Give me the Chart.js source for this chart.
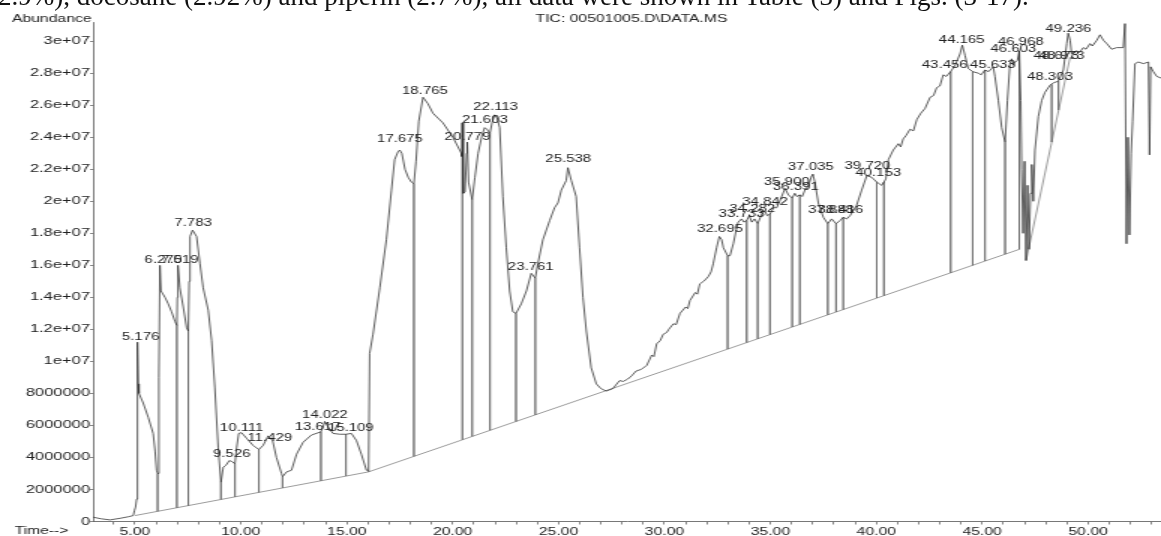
<!DOCTYPE html>
<html>
<head>
<meta charset="utf-8">
<script src="https://cdn.jsdelivr.net/npm/chart.js@4/dist/chart.umd.min.js"></script>
<style>
  html, body { margin: 0; padding: 0; background: #fff; overflow: hidden; }
  #page { position: relative; width: 1161px; height: 536px; overflow: hidden; }
  #chart { position: absolute; left: 0; top: 0; }
  #paper {
    position: absolute; left: -11px; top: -18px; white-space: nowrap;
    font: 27px/28px "Liberation Serif", "Times New Roman", serif; color: #111;
  }
</style>
</head>
<body>
<div id="page">
  <canvas id="chart" width="774" height="536" style="width:1161px;height:536px"></canvas>
  <div id="paper">(2.9%), docosane (2.92%) and piperin (2.7%), all data were shown in Table (3) and Figs. (3-17).</div>
</div>
<script>
// TIC trace, retention time (min) and abundance
const ticTime = [3.02, 3.4, 3.82, 4.3, 4.7, 4.92, 4.98, 5.03, 5.08, 5.11, 5.13, 5.16, 5.19, 5.39, 5.63, 5.86, 5.95, 6.02, 6.07, 6.13,
  6.18, 6.23, 6.42, 6.57, 6.73, 6.89, 6.98, 7.0, 7.03, 7.12, 7.28, 7.44, 7.52, 7.56, 7.6, 7.72, 7.91, 8.07, 8.22, 8.46,
  8.62, 8.77, 8.93, 9.06, 9.17, 9.29, 9.45, 9.58, 9.72, 9.8, 9.9, 10.03, 10.27, 10.58, 10.85, 11.05, 11.29, 11.5, 11.68, 11.92,
  11.97, 12.16, 12.39, 12.63, 12.94, 13.33, 13.78, 13.88, 13.96, 14.12, 14.35, 14.67, 14.96, 15.22, 15.46, 15.69, 15.93, 16.03, 16.08, 16.24,
  16.56, 16.87, 17.11, 17.26, 17.42, 17.5, 17.6, 17.75, 17.9, 18.05, 18.17, 18.27, 18.4, 18.6, 18.83, 19.07, 19.54, 20.01, 20.41, 20.44,
  20.46, 20.5, 20.58, 20.66, 20.69, 20.75, 20.92, 21.05, 21.2, 21.4, 21.51, 21.62, 21.76, 21.86, 21.98, 22.1, 22.22, 22.37, 22.53, 22.69,
  22.84, 22.99, 23.24, 23.48, 23.71, 23.9, 24.02, 24.26, 24.58, 24.81, 24.97, 25.13, 25.36, 25.44, 25.6, 25.83, 25.99, 26.15, 26.31, 26.54,
  26.78, 27.0, 27.25, 27.56, 27.88, 28.05, 28.27, 28.45, 28.66, 28.9, 29.16, 29.4, 29.5, 29.63, 29.8, 29.94, 30.1, 30.2, 30.42, 30.55,
  30.73, 31.0, 31.1, 31.2, 31.45, 31.55, 31.67, 31.85, 32.07, 32.2, 32.3, 32.46, 32.59, 32.7, 32.78, 32.98, 33.09, 33.25, 33.4, 33.48,
  33.64, 33.75, 33.88, 34.0, 34.12, 34.25, 34.4, 34.59, 34.74, 34.85, 34.98, 35.15, 35.3, 35.5, 35.69, 35.85, 36.03, 36.15, 36.25, 36.39,
  36.5, 36.63, 36.8, 36.95, 37.0, 37.1, 37.26, 37.5, 37.71, 37.89, 38.1, 38.29, 38.44, 38.6, 38.76, 39.07, 39.31, 39.55, 39.78, 40.02,
  40.25, 40.36, 40.45, 40.57, 40.8, 41.04, 41.15, 41.27, 41.4, 41.59, 41.75, 41.91, 42.1, 42.3, 42.54, 42.7, 42.85, 43.0, 43.16, 43.3,
  43.51, 43.72, 43.95, 44.06, 44.19, 44.34, 44.55, 44.82, 44.95, 45.13, 45.3, 45.45, 45.52, 45.6, 45.76, 45.92, 46.08, 46.19, 46.31, 46.39,
  46.48, 46.55, 46.66, 46.75, 46.82, 46.86, 46.93, 47.0, 47.07, 47.14, 47.21, 47.28, 47.34, 47.41, 47.49, 47.65, 47.81, 47.96, 48.2, 48.36,
  48.59, 48.83, 48.99, 49.06, 49.15, 49.22, 49.46, 49.6, 49.77, 49.9, 50.09, 50.2, 50.41, 50.56, 50.72, 50.88, 51.11, 51.35, 51.66, 51.74,
  51.81, 51.88, 51.95, 52.03, 52.1, 52.21, 52.37, 52.61, 52.85, 52.9, 52.95, 53.08, 53.24, 53.44];
const ticAbund = [0.27e6, 0.17e6, 0.1e6, 0.2e6, 0.3e6, 0.37e6, 0.7e6, 0.9e6, 1.4e6, 6.0e6, 11.2e6, 8.6e6, 8.0e6, 7.4e6, 6.5e6, 5.5e6, 4.4e6, 3.2e6, 3.0e6, 9.0e6,
  16.0e6, 14.4e6, 14.0e6, 13.6e6, 13.1e6, 12.5e6, 12.25e6, 14.0e6, 16.0e6, 14.6e6, 13.4e6, 12.1e6, 11.9e6, 15.0e6, 17.8e6, 18.2e6, 17.8e6, 16.1e6, 14.6e6, 13.2e6,
  11.3e6, 8.4e6, 4.6e6, 2.45e6, 3.4e6, 3.5e6, 3.8e6, 3.75e6, 3.6e6, 4.6e6, 5.5e6, 5.55e6, 5.2e6, 4.75e6, 4.5e6, 4.75e6, 5.35e6, 5.05e6, 4.0e6, 3.0e6,
  2.8e6, 3.1e6, 3.2e6, 4.2e6, 4.95e6, 5.4e6, 5.6e6, 5.9e6, 6.25e6, 5.9e6, 5.5e6, 5.45e6, 5.45e6, 5.5e6, 5.05e6, 4.2e6, 3.2e6, 3.2e6, 10.5e6, 11.7e6,
  14.6e6, 17.6e6, 20.7e6, 22.6e6, 23.1e6, 23.2e6, 23.0e6, 22.0e6, 21.5e6, 21.2e6, 21.1e6, 22.5e6, 25.0e6, 26.5e6, 26.1e6, 25.5e6, 24.9e6, 24.0e6, 23.0e6, 22.8e6,
  24.9e6, 20.5e6, 20.6e6, 23.0e6, 23.7e6, 21.2e6, 20.1e6, 21.5e6, 23.0e6, 24.2e6, 24.6e6, 24.5e6, 24.25e6, 24.9e6, 25.4e6, 25.2e6, 24.6e6, 20.3e6, 17.1e6, 14.4e6,
  13.1e6, 13.0e6, 13.6e6, 14.4e6, 15.5e6, 15.2e6, 16.1e6, 17.6e6, 18.8e6, 19.6e6, 19.9e6, 20.7e6, 21.3e6, 22.1e6, 21.3e6, 20.3e6, 17.1e6, 14.0e6, 11.9e6, 9.6e6,
  8.6e6, 8.3e6, 8.15e6, 8.3e6, 8.8e6, 8.75e6, 8.9e6, 9.1e6, 9.4e6, 9.5e6, 9.75e6, 10.4e6, 10.3e6, 11.1e6, 11.3e6, 11.7e6, 11.8e6, 12.0e6, 12.35e6, 12.3e6,
  13.0e6, 13.4e6, 13.3e6, 13.8e6, 14.3e6, 14.2e6, 14.85e6, 15.0e6, 15.3e6, 15.6e6, 16.1e6, 17.1e6, 17.8e6, 17.6e6, 17.1e6, 16.6e6, 16.6e6, 17.35e6, 18.3e6, 18.7e6,
  18.9e6, 18.7e6, 18.8e6, 19.1e6, 18.7e6, 18.9e6, 18.6e6, 19.2e6, 19.4e6, 19.1e6, 19.2e6, 19.6e6, 19.6e6, 20.2e6, 20.8e6, 20.4e6, 20.2e6, 20.5e6, 20.3e6, 20.4e6,
  20.3e6, 20.7e6, 21.0e6, 21.6e6, 21.7e6, 21.2e6, 19.9e6, 19.0e6, 18.6e6, 18.9e6, 18.6e6, 18.8e6, 19.0e6, 18.9e6, 19.1e6, 19.75e6, 20.7e6, 21.6e6, 21.5e6, 21.2e6,
  21.0e6, 21.2e6, 21.4e6, 22.6e6, 23.2e6, 23.6e6, 23.4e6, 23.9e6, 24.1e6, 24.5e6, 24.4e6, 25.1e6, 25.5e6, 25.8e6, 26.5e6, 26.6e6, 27.1e6, 27.2e6, 27.9e6, 27.8e6,
  28.1e6, 28.5e6, 29.2e6, 29.75e6, 29.1e6, 28.3e6, 28.1e6, 28.0e6, 27.9e6, 28.2e6, 28.1e6, 28.3e6, 28.4e6, 27.8e6, 26.3e6, 24.6e6, 23.7e6, 26.3e6, 28.6e6, 28.9e6,
  28.5e6, 28.7e6, 28.8e6, 29.4e6, 26.3e6, 22.0e6, 18.0e6, 22.5e6, 16.3e6, 21.0e6, 17.0e6, 20.5e6, 22.3e6, 20.0e6, 23.2e6, 25.3e6, 26.3e6, 26.8e6, 27.25e6, 27.4e6,
  27.5e6, 28.2e6, 29.85e6, 30.5e6, 30.06e6, 29.2e6, 29.4e6, 29.3e6, 29.6e6, 29.5e6, 29.85e6, 29.7e6, 30.06e6, 30.4e6, 30.06e6, 29.85e6, 29.5e6, 29.6e6, 29.6e6, 31.1e6,
  17.35e6, 24.0e6, 17.9e6, 23.0e6, 25.0e6, 28.6e6, 28.7e6, 28.6e6, 28.7e6, 22.9e6, 28.4e6, 28.1e6, 27.8e6, 27.7e6];

// integration baselines
const baseTime = [5.0, 16.03, 46.75];
const baseAbund = [0.37e6, 3.1e6, 17.0e6];
const tailBaseTime = [47.07, 49.15];
const tailBaseAbund = [16.3e6, 29.0e6];

// peak start/stop drop lines: time, top on the trace, bottom on the baseline
const dropTime = [6.07, 6.98, 7.52, 9.06, 9.72, 10.85, 11.97, 13.78, 14.96, 16.03, 18.17, 20.46, 20.92, 21.76, 22.99, 23.9,
  32.98, 33.88, 34.4, 34.98, 36.03, 36.39, 37.71, 38.1, 38.44, 40.02, 40.36, 43.51, 44.55, 45.13, 46.08, 46.75, 48.28, 48.6];
const dropTop = [3.0e6, 12.25e6, 11.9e6, 2.45e6, 3.6e6, 4.5e6, 2.8e6, 5.6e6, 5.45e6, 3.2e6, 21.1e6, 24.9e6, 20.1e6, 24.25e6, 13.0e6, 15.2e6,
  16.6e6, 18.8e6, 18.6e6, 19.2e6, 20.2e6, 20.4e6, 18.6e6, 18.6e6, 19.0e6, 21.2e6, 21.2e6, 28.1e6, 28.1e6, 28.2e6, 23.7e6, 29.4e6, 27.3e6, 27.5e6];
const dropBottom = [0.64e6, 0.86e6, 0.99e6, 1.38e6, 1.54e6, 1.82e6, 2.1e6, 2.54e6, 2.84e6, 3.1e6, 4.07e6, 5.11e6, 5.32e6, 5.7e6, 6.25e6, 6.66e6,
  10.77e6, 11.18e6, 11.41e6, 11.68e6, 12.15e6, 12.31e6, 12.91e6, 13.09e6, 13.24e6, 13.96e6, 14.11e6, 15.53e6, 16.0e6, 16.27e6, 16.7e6, 17.0e6, 23.7e6, 25.7e6];

// retention time labels, placed at (time, abundance) of the text baseline centre
const peakLabel = ["5.176", "6.275", "7.019", "7.783", "9.526", "10.111", "11.429", "13.617", "14.022", "15.109",
  "17.675", "18.765", "20.779", "21.603", "22.113", "23.761", "25.538", "32.695", "33.733", "34.282", "34.842",
  "35.900", "36.391", "37.035", "37.888", "38.416", "39.720", "40.153", "43.456", "44.165", "45.633", "46.603",
  "46.968", "48.303", "48.673", "48.973", "49.236"];
const peakLabelTime = [5.27, 6.34, 7.12, 7.75, 9.57, 10.04, 11.37, 13.62, 13.97, 15.19,
  17.51, 18.69, 20.7, 21.52, 22.03, 23.69, 25.46, 32.62, 33.64, 34.15, 34.75,
  35.77, 36.2, 36.91, 37.86, 38.31, 39.58, 40.09, 43.23, 44.03, 45.5, 46.47,
  46.82, 48.2, 48.5, 48.75, 49.07];
const peakLabelAbund = [11.34e6, 16.17e6, 16.17e6, 18.47e6, 4.01e6, 5.66e6, 5.03e6, 5.72e6, 6.49e6, 5.68e6,
  23.68e6, 26.72e6, 23.84e6, 24.89e6, 25.68e6, 15.72e6, 22.43e6, 18.11e6, 19.05e6, 19.36e6, 19.78e6,
  21.03e6, 20.68e6, 21.97e6, 19.26e6, 19.26e6, 22.03e6, 21.55e6, 28.3e6, 29.9e6, 28.3e6, 29.32e6,
  29.78e6, 27.55e6, 28.9e6, 28.9e6, 30.56e6];

const yTicks = [0, 2e6, 4e6, 6e6, 8e6, 10e6, 12e6, 14e6, 16e6, 18e6, 20e6, 22e6, 24e6, 26e6, 28e6, 30e6];
const xMinorTicks = [4, 5, 6, 7, 8, 9, 10, 11, 12, 13, 14, 15, 16, 17, 18, 19, 20, 21, 22, 23, 24, 25, 26, 27, 28,
  29, 30, 31, 32, 33, 34, 35, 36, 37, 38, 39, 40, 41, 42, 43, 44, 45, 46, 47, 48, 49, 50, 51, 52, 53];
const xLabelTicks = [5, 10, 15, 20, 25, 30, 35, 40, 45, 50];

const FONT = '"Liberation Sans", Arial, sans-serif';
const INK = '#222';

const pairs = (xs, ys) => xs.map((t, i) => ({ x: t, y: ys[i] }));

let dropPoints = [];
for (let i = 0; i < dropTime.length; i++) {
  dropPoints.push({ x: dropTime[i], y: dropTop[i] });
  dropPoints.push({ x: dropTime[i], y: dropBottom[i] });
  dropPoints.push({ x: dropTime[i], y: null });
}

let fmtAbund = (v) => {
  if (v === 0) return '0';
  if (v < 1e7) return String(v);
  return parseFloat((v / 1e7).toFixed(1)) + 'e+07';
};

const annotate = {
  id: 'annotate',
  afterDatasetsDraw(chart) {
    const { ctx } = chart;
    const x = chart.scales.x, y = chart.scales.y;
    ctx.save();
    ctx.fillStyle = INK;
    ctx.textAlign = 'center';
    ctx.textBaseline = 'alphabetic';
    ctx.font = '10px ' + FONT;
    for (let i = 0; i < peakLabel.length; i++) {
      ctx.fillText(peakLabel[i], x.getPixelForValue(peakLabelTime[i]), y.getPixelForValue(peakLabelAbund[i]));
    }
    ctx.font = '10.5px ' + FONT;
    ctx.textBaseline = 'middle';
    ctx.fillText('Abundance', 34.5, 19);
    ctx.fillText('TIC: 00501005.D\\DATA.MS', 421, 19.5);
    ctx.fillText('Time-->', 27.7, 531);
    ctx.restore();
  }
};

new Chart(document.getElementById('chart'), {
  type: 'line',
  data: {
    datasets: [
      {
        data: pairs(ticTime, ticAbund),
        borderColor: '#2b2b2b', borderWidth: 0.75, pointRadius: 0, tension: 0
      },
      {
        data: pairs(baseTime, baseAbund),
        borderColor: '#666', borderWidth: 0.65, pointRadius: 0
      },
      {
        data: pairs(tailBaseTime, tailBaseAbund),
        borderColor: '#666', borderWidth: 0.65, pointRadius: 0
      },
      {
        data: dropPoints,
        borderColor: '#666', borderWidth: 0.6, pointRadius: 0, spanGaps: false
      }
    ]
  },
  options: {
    responsive: false,
    devicePixelRatio: 1,
    animation: false,
    events: [],
    layout: { padding: { top: 22, left: 0, right: 0, bottom: 0 } },
    plugins: { legend: { display: false }, tooltip: { enabled: false }, title: { display: false } },
    scales: {
      x: {
        type: 'linear',
        min: 3.02,
        max: 53.44,
        afterBuildTicks: (s) => { s.ticks = xMinorTicks.map(v => ({ value: v })); },
        afterFit: (s) => { s.height = 14.5; },
        ticks: {
          autoSkip: false, maxRotation: 0, padding: 1, color: INK,
          font: { family: FONT, size: 10.5 },
          callback: (v) => xLabelTicks.includes(v) ? v.toFixed(2) : ''
        },
        grid: { drawOnChartArea: false, drawTicks: true, tickLength: 3, color: '#555', lineWidth: 0.7 },
        border: { display: true, color: '#555', width: 0.8 }
      },
      y: {
        min: 0,
        max: 31.2e6,
        afterBuildTicks: (s) => { s.ticks = yTicks.map(v => ({ value: v })); },
        afterFit: (s) => { s.width = 62; },
        ticks: {
          padding: 0, color: INK,
          font: { family: FONT, size: 11 },
          callback: (v) => fmtAbund(v)
        },
        grid: { drawOnChartArea: false, drawTicks: true, tickLength: 2, color: '#555', lineWidth: 0.7 },
        border: { display: true, color: '#555', width: 0.8 }
      }
    }
  },
  plugins: [annotate]
});
</script>
</body>
</html>
